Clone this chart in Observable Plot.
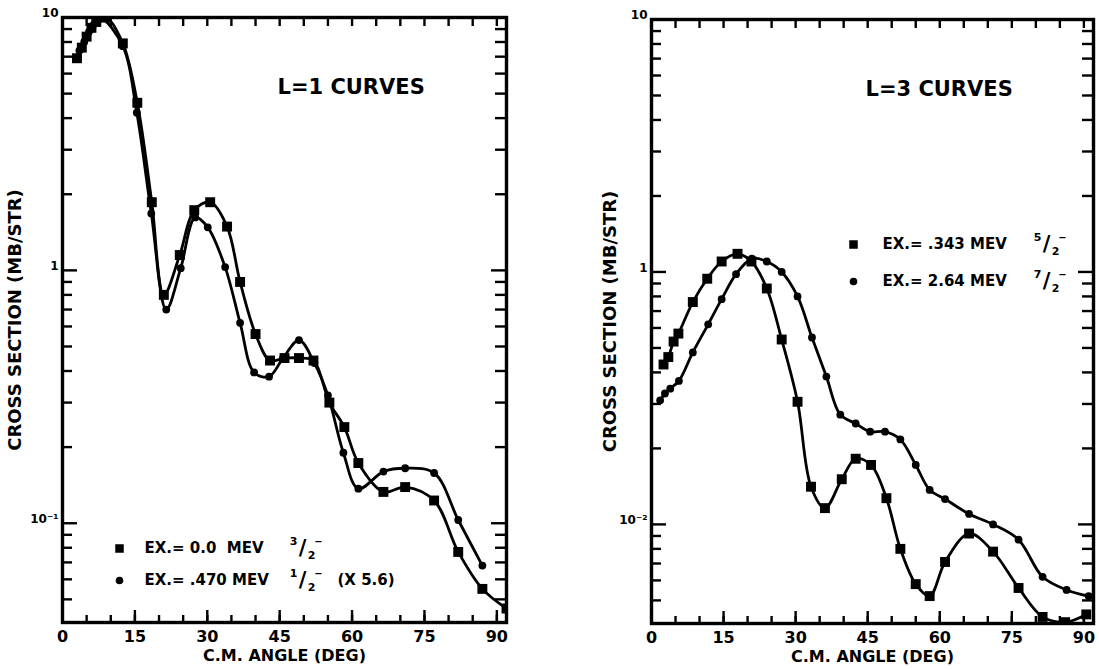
<!DOCTYPE html>
<html><head><meta charset="utf-8">
<script src="https://cdn.jsdelivr.net/npm/d3@7"></script>
<script src="https://cdn.jsdelivr.net/npm/@observablehq/plot@0.6"></script>
<style>
body{margin:0;background:#fff;}
#wrap{position:relative;width:1099px;height:670px;overflow:hidden;}
#left{position:absolute;left:0;top:0}
#right{position:absolute;left:550px;top:0}
</style></head><body><div id="wrap"><div id="left"></div><div id="right"></div></div>
<script>
// ---------- data ----------
// Left panel (L=1): EX = 0.0 MeV 3/2- (squares)
const l1SqAngle = [3.0, 4.0, 5.0, 6.0, 7.0, 9.0, 12.5, 15.5, 18.5, 21.0, 24.3, 27.3, 30.6, 34.1, 36.8, 40.0, 43.0, 46.0, 49.0, 52.0, 55.3, 58.4, 61.3, 66.5, 71.0, 77.0, 82.0, 87.0, 92.0];
const l1SqValue = [6.9, 7.6, 8.4, 9.1, 9.6, 10.0, 7.9, 4.6, 1.86, 0.80, 1.15, 1.73, 1.86, 1.49, 0.90, 0.56, 0.44, 0.45, 0.45, 0.44, 0.30, 0.24, 0.173, 0.133, 0.139, 0.123, 0.077, 0.055, 0.046];
// Left panel (L=1): EX = .470 MeV 1/2- (x 5.6) (dots)
const l1DotAngle = [3.5, 4.5, 5.5, 6.5, 8.0, 12.5, 15.4, 18.4, 21.5, 24.5, 27.5, 30.1, 33.7, 36.8, 39.7, 42.8, 45.7, 49.0, 52.2, 55.0, 58.2, 61.3, 66.5, 71.0, 77.0, 82.0, 87.0];
const l1DotValue = [7.4, 8.0, 8.8, 9.4, 9.9, 7.7, 4.2, 1.68, 0.70, 1.02, 1.62, 1.48, 1.03, 0.62, 0.395, 0.38, 0.45, 0.53, 0.43, 0.32, 0.19, 0.137, 0.160, 0.165, 0.158, 0.103, 0.068];
// Right panel (L=3): EX = .343 MeV 5/2- (squares)
const l3SqAngle = [2.5, 3.5, 4.6, 5.6, 8.6, 11.6, 14.6, 17.9, 20.8, 24.0, 27.1, 30.4, 33.2, 36.1, 39.6, 42.5, 45.7, 48.9, 51.8, 55.0, 57.9, 61.1, 66.1, 71.1, 76.4, 81.4, 86.1, 90.5];
const l3SqValue = [0.43, 0.46, 0.53, 0.57, 0.76, 0.94, 1.10, 1.18, 1.10, 0.86, 0.54, 0.306, 0.141, 0.116, 0.151, 0.182, 0.172, 0.127, 0.080, 0.058, 0.052, 0.071, 0.092, 0.078, 0.056, 0.043, 0.041, 0.044];
// Right panel (L=3): EX = 2.64 MeV 7/2- (dots)
const l3DotAngle = [1.8, 2.8, 3.9, 5.7, 8.6, 11.8, 14.6, 17.6, 20.9, 24.0, 27.1, 30.4, 33.4, 36.4, 39.3, 42.5, 45.5, 48.6, 51.8, 55.0, 57.9, 61.1, 66.1, 71.1, 76.4, 81.4, 86.4, 91.0];
const l3DotValue = [0.31, 0.33, 0.345, 0.37, 0.48, 0.62, 0.78, 0.98, 1.13, 1.10, 1.0, 0.80, 0.55, 0.385, 0.272, 0.251, 0.233, 0.233, 0.217, 0.172, 0.137, 0.126, 0.110, 0.100, 0.087, 0.062, 0.055, 0.052];

const xTickValues = [0, 15, 30, 45, 60, 75, 90];
const yTickValues = [0.1, 1, 10];
const leftYTickLabels = ["10\u207B\u00B9", "1", "10"];
const rightYTickLabels = ["10\u207B\u00B2", "1", "10"];
const xTitle = "C.M. ANGLE (DEG)";
const yTitle = "CROSS SECTION (MB/STR)";
const leftTitle = "L=1 CURVES";
const rightTitle = "L=3 CURVES";
const leftLegend = [
  {text: "EX.=\u00A00.0\u00A0\u00A0MEV", num: "3", extra: ""},
  {text: "EX.=\u00A0.470\u00A0MEV", num: "1", extra: "(X\u00A05.6)"}
];
const rightLegend = [
  {text: "EX.=\u00A0.343\u00A0MEV", num: "5", extra: ""},
  {text: "EX.=\u00A02.64\u00A0MEV", num: "7", extra: ""}
];

// ---------- drawing ----------
const FONT = "'DejaVu Sans', 'Liberation Sans', sans-serif";
const bold = {fontWeight: "bold", fill: "black", lineAnchor: "middle"};

function fraction(dx, dy, num) {
  const base = {frameAnchor: "top-left", text: d => d, textAnchor: "middle", ...bold};
  return [
    Plot.text([num], {...base, dx: dx, dy: dy - 7, fontSize: 11}),
    Plot.text(["/"], {...base, dx: dx + 9, dy: dy, fontSize: 21}),
    Plot.text(["2"], {...base, dx: dx + 18, dy: dy + 7, fontSize: 11}),
    Plot.text(["\u2212"], {...base, dx: dx + 25, dy: dy - 7, fontSize: 10})
  ];
}

function panel(cfg) {
  const height = 670;
  const pw = cfg.width - cfg.mL - cfg.mR, ph = height - cfg.mT - cfg.mB;
  const rows = (a, v) => a.map((x, i) => ({x, y: v[i]}));
  const sq = rows(cfg.sqA, cfg.sqV), dt = rows(cfg.dtA, cfg.dtV);
  const xMinor = d3.range(0, 91, 5);
  const xMajor = xMinor.filter(d => d % 15 === 0);
  const yMinor = [];
  for (const e of [-2, -1, 0]) for (let k = 2; k < 10; k++) {
    const v = k * Math.pow(10, e);
    if (v >= 0.0405 && v < 10) yMinor.push(v);
  }
  const yMajor = [0.1, 1];
  const L = cfg.legend;
  const lg = cfg.lg;
  const tl = {frameAnchor: "top-left", textAnchor: "start", text: d => d, ...bold};
  const marks = [
    Plot.line(sq, {x: "x", y: "y", curve: "catmull-rom", strokeWidth: 2.8, stroke: "black", clip: true}),
    Plot.line(dt, {x: "x", y: "y", curve: "catmull-rom", strokeWidth: 2.8, stroke: "black", clip: true}),
    Plot.dot(sq, {x: "x", y: "y", symbol: "square", r: 5.6, fill: "black", clip: true}),
    Plot.dot(dt, {x: "x", y: "y", r: 3.9, fill: "black", clip: true}),
    // inward ticks
    Plot.tickX(xMinor, {x: d => d, insetTop: ph - 7, strokeWidth: 2.4}),
    Plot.tickX(xMajor, {x: d => d, insetTop: ph - 12, strokeWidth: 2.4}),
    Plot.tickX(xMinor, {x: d => d, insetBottom: ph - 9, strokeWidth: 2.4}),
    Plot.tickY(yMinor, {y: d => d, insetRight: pw - 10, strokeWidth: 2.4}),
    Plot.tickY(yMajor, {y: d => d, insetRight: pw - 15, strokeWidth: 2.4}),
    Plot.tickY(yMinor, {y: d => d, insetLeft: pw - 11, strokeWidth: 2.4}),
    Plot.tickY(yMajor, {y: d => d, insetLeft: pw - 15, strokeWidth: 2.4}),
    Plot.frame({strokeWidth: 3.4, stroke: "black"}),
    // tick labels
    Plot.text(xTickValues, {x: d => d, frameAnchor: "bottom", dy: 14, textAnchor: "middle", text: d => String(d), fontSize: 16, ...bold}),
    Plot.text(yTickValues, {y: d => d, frameAnchor: "left", dx: -4, dy: -4, textAnchor: "end",
      text: (d, i) => cfg.yLabels[i], fontSize: 12, ...bold}),
    // axis titles
    Plot.text([xTitle], {frameAnchor: "bottom", dy: 33, textAnchor: "middle", text: d => d, fontSize: 16, ...bold}),
    Plot.text([yTitle], {frameAnchor: "left", dx: cfg.yTitleDx, dy: 0, rotate: -90, textAnchor: "middle", text: d => d, fontSize: 18, ...bold}),
    // panel title
    Plot.text([cfg.title], {...tl, dx: cfg.titleDx, dy: 70, fontSize: 21}),
    // legend
    Plot.dot([0], {frameAnchor: "top-left", dx: lg.markDx, dy: lg.dy0, symbol: "square", r: 4.8, fill: "black"}),
    Plot.dot([0], {frameAnchor: "top-left", dx: lg.markDx, dy: lg.dy1, r: 3.8, fill: "black"}),
    Plot.text([L[0].text], {...tl, dx: lg.textDx, dy: lg.dy0, fontSize: 15}),
    Plot.text([L[1].text], {...tl, dx: lg.textDx, dy: lg.dy1, fontSize: 15}),
    ...fraction(lg.fracDx, lg.dy0, L[0].num),
    ...fraction(lg.fracDx, lg.dy1, L[1].num)
  ];
  if (L[1].extra) marks.push(Plot.text([L[1].extra], {...tl, dx: lg.fracDx + 44, dy: lg.dy1, fontSize: 15}));
  return Plot.plot({
    width: cfg.width, height,
    marginLeft: cfg.mL, marginRight: cfg.mR, marginTop: cfg.mT, marginBottom: cfg.mB,
    style: {fontFamily: FONT, background: "white", color: "black", overflow: "visible"},
    x: {domain: [0, 92], axis: null},
    y: {type: "log", domain: [0.0405, 10], axis: null},
    marks
  });
}

document.getElementById("left").append(panel({
  width: 550, mL: 62, mR: 44, mT: 17, mB: 48,
  sqA: l1SqAngle, sqV: l1SqValue, dtA: l1DotAngle, dtV: l1DotValue,
  yLabels: leftYTickLabels, title: leftTitle, titleDx: 215, yTitleDx: -47,
  legend: leftLegend,
  lg: {markDx: 57, textDx: 82, fracDx: 231, dy0: 531, dy1: 563}
}));
document.getElementById("right").append(panel({
  width: 549, mL: 101, mR: 6, mT: 19, mB: 47,
  sqA: l3SqAngle, sqV: l3SqValue, dtA: l3DotAngle, dtV: l3DotValue,
  yLabels: rightYTickLabels, title: rightTitle, titleDx: 214, yTitleDx: -41,
  legend: rightLegend,
  lg: {markDx: 202, textDx: 231, fracDx: 386, dy0: 225, dy1: 262}
}));
</script>
</body></html>
